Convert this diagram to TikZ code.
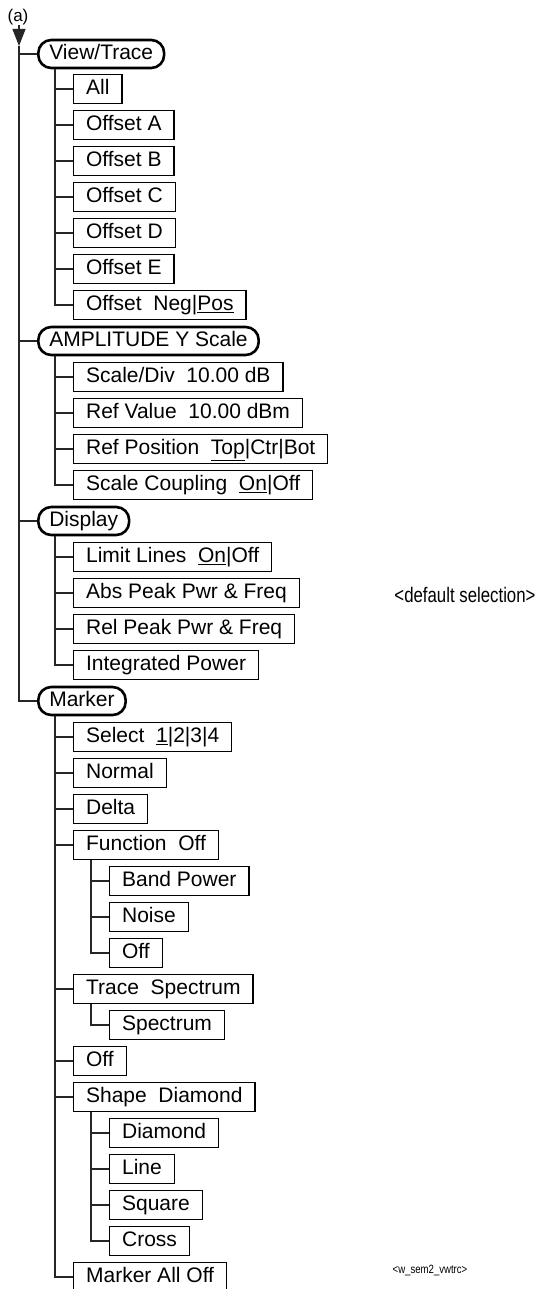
\documentclass[tikz,border=0pt]{standalone}
\usepackage{fontspec}
\setmainfont{Liberation Sans}
\newfontfamily\narrowsf[FakeStretch=0.8]{Liberation Sans}
\usetikzlibrary{arrows.meta}

\begin{document}
\begin{tikzpicture}[x=1pt,y=-1pt,
  menu/.style={draw,line width=2.6pt,rounded corners=13pt,anchor=west,
               minimum height=28pt,inner xsep=11pt,text height=15.5pt,text depth=4.5pt,
               font=\fontsize{21}{25}\selectfont},
  item/.style={draw,line width=1.2pt,anchor=west,minimum height=29pt,inner xsep=12.5pt,
               text height=15.5pt,text depth=4.5pt,font=\fontsize{21}{25}\selectfont},
  link/.style={line width=1.3pt,black!85}]
  \useasboundingbox (0,0) rectangle (538,1289);
  % entry arrow
  \node[font=\fontsize{17}{19}\selectfont,inner sep=0pt](lbl) at (18,17) {(a)};
  \coordinate (tip) at (19,46);
  \draw[link,-{Triangle[length=17pt 0 0,width=13pt 0 0]}] (lbl.south -| tip) -- (tip);
  % top level menus
  \node[menu](vt)   at (37,54)  {View/Trace};
  \node[menu](amp)  at (37,341) {AMPLITUDE Y Scale};
  \node[menu](disp) at (37,521) {Display};
  \node[menu](mark) at (37,701) {Marker};
  \foreach \m in {vt,amp,disp,mark} \draw[link](tip) |- (\m.west);
  % View/Trace
  \node[item](all)  at (73,89)  {All};
  \node[item](offa) at (73,125) {Offset A};
  \node[item](offb) at (73,161) {Offset B};
  \node[item](offc) at (73,197) {Offset C};
  \node[item](offd) at (73,233) {Offset D};
  \node[item](offe) at (73,269) {Offset E};
  \node[item](offn) at (73,305) {Offset\ \ Neg|\underline{Pos}};
  \foreach \c in {all,offa,offb,offc,offd,offe,offn}
    \draw[link]([xshift=18pt]vt.south west) |- (\c.west);
  % AMPLITUDE
  \node[item](sdiv) at (73,377) {Scale/Div\ \ 10.00 dB};
  \node[item](rval) at (73,413) {Ref Value\ \ 10.00 dBm};
  \node[item](rpos) at (73,449) {Ref Position\ \ \underline{Top}|Ctr|Bot};
  \node[item](scpl) at (73,485) {Scale Coupling\ \ \underline{On}|Off};
  \foreach \c in {sdiv,rval,rpos,scpl}
    \draw[link]([xshift=18pt]amp.south west) |- (\c.west);
  % Display
  \node[item](llin) at (73,557) {Limit Lines\ \ \underline{On}|Off};
  \node[item](apk)  at (73,593) {Abs Peak Pwr \& Freq};
  \node[item](rpk)  at (73,629) {Rel Peak Pwr \& Freq};
  \node[item](ipow) at (73,665) {Integrated Power};
  \foreach \c in {llin,apk,rpk,ipow}
    \draw[link]([xshift=18pt]disp.south west) |- (\c.west);
  \node[font=\narrowsf\fontsize{21}{25}\selectfont](dflt) at (465,595) {<default selection>};
  % Marker
  \node[item](sel)   at (73,737)  {Select\ \ \underline{1}|2|3|4};
  \node[item](norm)  at (73,773)  {Normal};
  \node[item](delta) at (73,809)  {Delta};
  \node[item](fun)   at (73,845)  {Function\ \ Off};
  \node[item](trsp)  at (73,989)  {Trace\ \ Spectrum};
  \node[item](moff)  at (73,1061) {Off};
  \node[item](shp)   at (73,1097) {Shape\ \ Diamond};
  \node[item](maoff) at (73,1277) {Marker All Off};
  \foreach \c in {sel,norm,delta,fun,trsp,moff,shp,maoff}
    \draw[link]([xshift=18pt]mark.south west) |- (\c.west);
  \node[item](band)  at (109,881)  {Band Power};
  \node[item](noise) at (109,917)  {Noise};
  \node[item](foff)  at (109,953)  {Off};
  \foreach \c in {band,noise,foff}
    \draw[link]([xshift=18pt]fun.south west) |- (\c.west);
  \node[item](spec)  at (109,1025) {Spectrum};
  \draw[link]([xshift=18pt]trsp.south west) |- (spec.west);
  \node[item](diam)  at (109,1133) {Diamond};
  \node[item](line)  at (109,1169) {Line};
  \node[item](sq)    at (109,1205) {Square};
  \node[item](cross) at (109,1241) {Cross};
  \foreach \c in {diam,line,sq,cross}
    \draw[link]([xshift=18pt]shp.south west) |- (\c.west);
  \node[font=\narrowsf\fontsize{12}{14}\selectfont](tag) at (430,1270) {<w\_sem2\_vwtrc>};
\end{tikzpicture}
\end{document}
